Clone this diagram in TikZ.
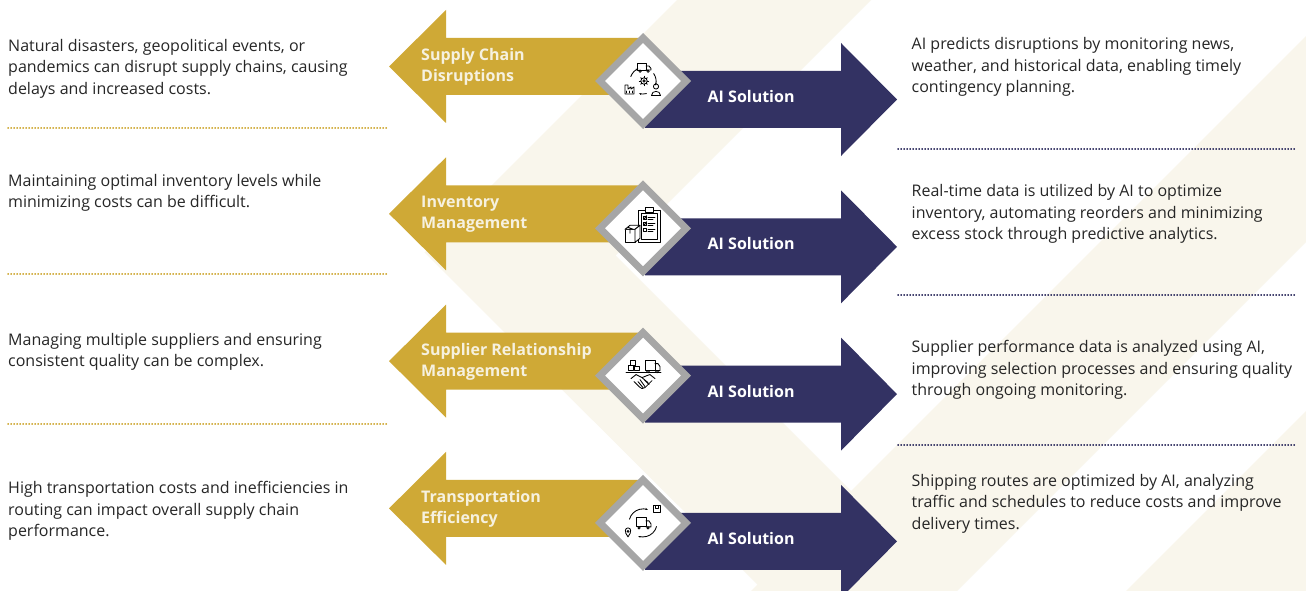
\documentclass[tikz,border=0pt]{standalone}
\usepackage{fontspec}
\setmainfont{Open Sans}
\usepackage{xcolor}
\usepackage{tikz}
\usetikzlibrary{shapes.geometric, arrows.meta, calc}
\definecolor{chaingold}{HTML}{CFA936}
\definecolor{solnavy}{HTML}{333263}
\definecolor{bgcream}{HTML}{F9F6EC}
\definecolor{rimgray}{HTML}{A6A6A6}
\definecolor{bodygray}{HTML}{262626}
\definecolor{labelcream}{HTML}{F6F1DF}

\begin{document}
\begin{tikzpicture}[x=1pt, y=-1pt,
  bodytext/.style={bodygray, font=\fontsize{16}{21.6}\selectfont, align=left, inner sep=0pt, anchor=west},
  goldlabel/.style={labelcream, font=\fontsize{16}{21}\selectfont\bfseries, align=left, inner sep=0pt, anchor=west},
  sollabel/.style={white, font=\fontsize{16}{16}\selectfont\bfseries, inner sep=0pt, anchor=west},
  hub/.style={diamond, aspect=1, draw=rimgray, line width=7pt, fill=white, minimum width=89pt, minimum height=89pt, inner sep=0pt},
  golddots/.style={chaingold, line width=1.8pt, line cap=round, dash pattern=on 0.3pt off 2.7pt},
  navydots/.style={solnavy, line width=1.8pt, line cap=round, dash pattern=on 0.3pt off 2.7pt},
  icon/.style={black, line width=0.85pt, line join=round, line cap=round}
]
  \useasboundingbox (0,0) rectangle (1306,591);
  \fill[white] (0,0) rectangle (1306,591);

  % cream bands behind everything
  \begin{scope}
    \clip (0,0) rectangle (1306,591);
    \fill[bgcream] (677,0) -- (871,0) -- (615.5,255.5) -- (951,591) -- (764,591) -- (424.5,252.5) -- cycle;
    \fill[bgcream] (1306,36) -- (1306,242) -- (957,591) -- (751,591) -- cycle;
    \fill[bgcream] (1306,411) -- (1306,591) -- (1126,591) -- cycle;
  \end{scope}

  % separators
  \draw[golddots] (8,127.7) -- (388,127.7);
  \draw[golddots] (8,274) -- (388,274);
  \draw[golddots] (8,424) -- (388,424);
  \draw[navydots] (898,149) -- (1296,149);
  \draw[navydots] (898,295) -- (1296,295);
  \draw[navydots] (898,445) -- (1296,445);

  % arrows and hubs
  \foreach \y/\i in {66.5/1, 213.8/2, 361.1/3, 508.4/4}{
    \fill[solnavy] (645,\y+4.5) -- (841,\y+4.5) -- (841,\y-23.5) -- (897,\y+33)
      -- (841,\y+89.5) -- (841,\y+61.5) -- (645,\y+61.5) -- cycle;
    \fill[chaingold] (389,\y) -- (446,\y-56.5) -- (446,\y-28.5) -- (640,\y-28.5)
      -- (640,\y+28.5) -- (446,\y+28.5) -- (446,\y+56.5) -- cycle;
    \node[hub] (hub\i) at (643,\y+14.5) {};
    \node[sollabel] (ai\i) at (707.5,\y+30) {AI Solution};
  }

  % topic labels
  \node[goldlabel] (topic1) at (421,67) {Supply Chain\\Disruptions};
  \node[goldlabel] (topic2) at (421,214.3) {Inventory\\Management};
  \node[goldlabel] (topic3) at (421,361.6) {Supplier Relationship\\Management};
  \node[goldlabel] (topic4) at (421,508.9) {Transportation\\Efficiency};

  % challenges
  \node[bodytext] (trouble1) at (8,68.5) {Natural disasters, geopolitical events, or\\pandemics can disrupt supply chains, causing\\delays and increased costs.};
  \node[bodytext] (trouble2) at (8,193) {Maintaining optimal inventory levels while\\minimizing costs can be difficult.};
  \node[bodytext] (trouble3) at (8,352) {Managing multiple suppliers and ensuring\\consistent quality can be complex.};
  \node[bodytext] (trouble4) at (8,511) {High transportation costs and inefficiencies in\\routing can impact overall supply chain\\performance.};

  % remedies
  \node[bodytext] (remedy1) at (911.5,67) {AI predicts disruptions by monitoring news,\\weather, and historical data, enabling timely\\contingency planning.};
  \node[bodytext] (remedy2) at (911.5,214) {Real-time data is utilized by AI to optimize\\inventory, automating reorders and minimizing\\excess stock through predictive analytics.};
  \node[bodytext] (remedy3) at (911.5,370) {Supplier performance data is analyzed using AI,\\improving selection processes and ensuring quality\\through ongoing monitoring.};
  \node[bodytext] (remedy4) at (911.5,503.6) {Shipping routes are optimized by AI, analyzing\\traffic and schedules to reduce costs and improve\\delivery times.};

  % icon 1: supply cycle
  \begin{scope}[shift={(hub1.center)}, icon]
    \draw (-6,-18) rectangle (3,-11);
    \draw (3,-15) -- (6,-15) -- (8,-12.5) -- (8,-11) -- (3,-11);
    \draw (-3,-9.8) circle (1.2) (5,-9.8) circle (1.2);
    \draw (1,0) circle (3.2) (1,0) circle (1.2);
    \foreach \a in {0,45,...,315} \draw ($(1,0)+(\a:3.2)$) -- ($(1,0)+(\a:4.6)$);
    \draw (-18,6) -- (-18,13) -- (-9,13) -- (-9,6) -- (-12,8) -- (-12,6) -- (-15,8) -- (-15,4) -- (-18,4) -- cycle;
    \draw (-16.5,10) -- (-16.5,12) (-13.5,10) -- (-13.5,12) (-10.5,10) -- (-10.5,12);
    \draw (13,5.5) circle (2.6);
    \draw (8.5,14.5) .. controls (8.5,9) and (17.5,9) .. (17.5,14.5) -- cycle;
    \draw[-{Stealth[length=2.5pt]}] (-35:13) arc[start angle=-35, end angle=20, radius=13];
    \draw[-{Stealth[length=2.5pt]}] (75:13) arc[start angle=75, end angle=108, radius=13];
    \draw[-{Stealth[length=2.5pt]}] (200:13) arc[start angle=200, end angle=250, radius=13];
  \end{scope}

  % icon 2: inventory clipboard
  \begin{scope}[shift={(hub2.center)}, icon]
    \draw (-5,-18) rectangle (17,14);
    \draw (-2,-15) rectangle (14,11);
    \draw[fill=white] (2,-21) rectangle (10,-16);
    \foreach \r in {-10,-4,2}{
      \draw (0,\r-2) rectangle (3,\r+1);
      \draw (5,\r-1) -- (12,\r-1) (5,\r+1) -- (10,\r+1);
    }
    \draw (0.5,-10.5) -- (1.5,-9.5) -- (3.5,-12.5);
    \draw (0.5,-4.5) -- (1.5,-3.5) -- (3.5,-6.5);
    \draw[fill=white] (-18,1) rectangle (-8,14);
    \draw[fill=white] (-18,1) -- (-13,-3) -- (-3,-3) -- (-8,1) -- cycle;
    \draw[fill=white] (-8,1) -- (-3,-3) -- (-3,10) -- (-8,14) -- cycle;
    \draw (-15,-1) -- (-10,1) (-13,1) -- (-13,5);
  \end{scope}

  % icon 3: supplier handshake
  \begin{scope}[shift={(hub3.center)}, icon]
    \draw (-17,-3) -- (18,-3);
    \draw (2,-15) rectangle (12,-5);
    \draw (12,-12) -- (15,-12) -- (17,-9) -- (17,-5) -- (12,-5);
    \draw[fill=white] (5,-4) circle (1.3) (14,-4) circle (1.3);
    \draw (-15,-10) rectangle (-10,-5) (-9,-9) rectangle (-4,-5) (-13,-15) rectangle (-8,-10);
    \draw (-12,3) -- (-7,-1) -- (-1,2) -- (4,0) -- (7,-1) -- (12,3);
    \draw (-9,6) -- (-4,11) -- (-1,13) -- (2,12) -- (5,9) -- (9,5);
    \draw (-1,2) -- (5,7) (1,4) -- (6,9) (-3,4) -- (2,11) (-5,6) -- (0,12);
  \end{scope}

  % icon 4: transport route
  \begin{scope}[shift={(hub4.center)}, icon]
    \draw (-7,-5) rectangle (3,4);
    \draw (3,-2) -- (6,-2) -- (8,1) -- (8,4) -- (3,4);
    \draw[fill=white] (-4,5) circle (1.2) (5,5) circle (1.2);
    \draw[-{Stealth[length=2.5pt]}] (195:14) arc[start angle=195, end angle=290, radius=14];
    \draw[-{Stealth[length=2.5pt]}] (15:14) arc[start angle=15, end angle=110, radius=14];
    \draw (10,-17) rectangle (17,-10) (12,-17) -- (12,-14) -- (15,-14) -- (15,-17);
    \draw (-15,14) .. controls (-19,9) and (-18,5) .. (-15,5) .. controls (-12,5) and (-11,9) .. (-15,14);
    \draw (-15,8.5) circle (1);
  \end{scope}
\end{tikzpicture}
\end{document}
